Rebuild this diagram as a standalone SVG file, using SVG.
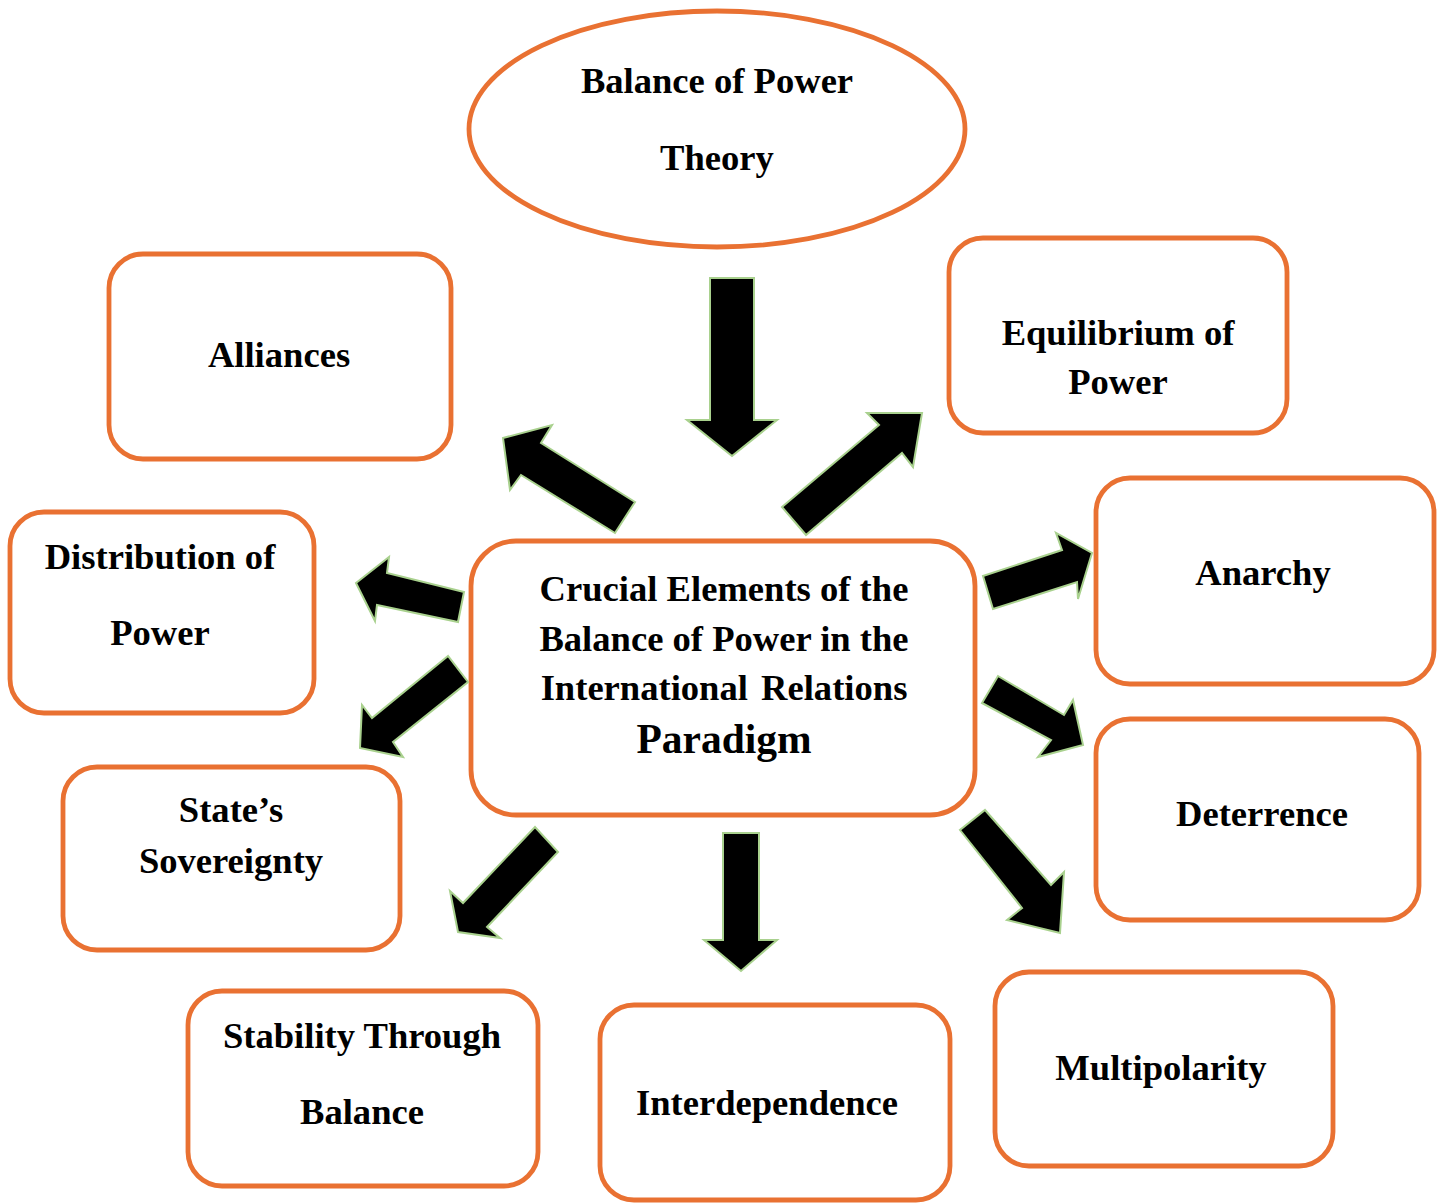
<svg xmlns="http://www.w3.org/2000/svg" width="1444" height="1203" viewBox="0 0 1444 1203">
  <style>
    .box { fill: #ffffff; stroke: #E97132; stroke-width: 4.8; }
    .arrow { fill: #000000; stroke: #A9D18E; stroke-width: 2; stroke-linejoin: miter; }
    .label { font-family: "Liberation Serif", "Times New Roman", serif; font-weight: bold; font-size: 36.6px; fill: #000000; text-anchor: middle; }
  </style>
  <rect x="0" y="0" width="1444" height="1203" fill="#ffffff"/>

  <!-- Top: theory ellipse -->
  <g id="node-theory">
    <ellipse class="box" cx="717" cy="129" rx="248" ry="118"/>
    <text class="label" x="717" y="93">Balance of Power</text>
    <text class="label" x="717" y="170">Theory</text>
  </g>

  <!-- Central concept -->
  <g id="node-central">
    <rect class="box" x="471" y="541" width="504" height="274" rx="45" ry="45"/>
    <text class="label" x="724" y="601">Crucial Elements of the</text>
    <text class="label" x="724" y="651">Balance of Power in the</text>
    <text class="label" x="724" y="700" word-spacing="4">International Relations</text>
    <text class="label" x="724" y="753" style="font-size:41.5px">Paradigm</text>
  </g>

  <!-- Surrounding elements -->
  <g id="node-alliances">
    <rect class="box" x="109" y="254" width="342" height="205" rx="34" ry="34"/>
    <text class="label" x="279" y="367">Alliances</text>
  </g>
  <g id="node-equilibrium">
    <rect class="box" x="949" y="238" width="338" height="195" rx="34" ry="34"/>
    <text class="label" x="1118" y="345">Equilibrium of</text>
    <text class="label" x="1118" y="394">Power</text>
  </g>
  <g id="node-distribution">
    <rect class="box" x="10" y="512" width="304" height="201" rx="34" ry="34"/>
    <text class="label" x="160" y="569">Distribution of</text>
    <text class="label" x="160" y="645">Power</text>
  </g>
  <g id="node-anarchy">
    <rect class="box" x="1096" y="478" width="338" height="206" rx="34" ry="34"/>
    <text class="label" x="1263" y="585">Anarchy</text>
  </g>
  <g id="node-deterrence">
    <rect class="box" x="1096" y="719" width="323" height="201" rx="34" ry="34"/>
    <text class="label" x="1262" y="826">Deterrence</text>
  </g>
  <g id="node-sovereignty">
    <rect class="box" x="63" y="767" width="337" height="183" rx="34" ry="34"/>
    <text class="label" x="231" y="822">State’s</text>
    <text class="label" x="231" y="873">Sovereignty</text>
  </g>
  <g id="node-stability">
    <rect class="box" x="188" y="991" width="350" height="195" rx="34" ry="34"/>
    <text class="label" x="362" y="1048">Stability Through</text>
    <text class="label" x="362" y="1124">Balance</text>
  </g>
  <g id="node-interdependence">
    <rect class="box" x="600" y="1005" width="350" height="195" rx="34" ry="34"/>
    <text class="label" x="767" y="1115">Interdependence</text>
  </g>
  <g id="node-multipolarity">
    <rect class="box" x="995" y="972" width="338" height="194" rx="34" ry="34"/>
    <text class="label" x="1161" y="1080">Multipolarity</text>
  </g>

  <!-- Block arrows -->
  <g id="connectors">
    <!-- theory to centre -->
    <polygon class="arrow" points="710,278 754,278 754,420 777,420 732,456 687,420 710,420"/>
    <!-- to equilibrium -->
    <polygon class="arrow" points="782,507 879,425 867,413 922,413 913,467 902,453 806,535"/>
    <!-- to alliances -->
    <polygon class="arrow" points="635,502 541,443 552,425 503,438 510,490 521,475 615,533"/>
    <!-- to distribution -->
    <polygon class="arrow" points="464,592 387,573 389,557 356,583 375,621 377,605 458,622"/>
    <!-- to sovereignty -->
    <polygon class="arrow" points="448,656 372,718 362,705 360,748 403,757 393,742 468,682"/>
    <!-- to anarchy -->
    <polygon class="arrow" points="983,576 1062,550 1056,533 1092,553 1078,599 1077,582 993,609"/>
    <!-- to deterrence -->
    <polygon class="arrow" points="998,676 1064,715 1073,700 1083,745 1038,757 1051,740 982,703"/>
    <!-- to multipolarity -->
    <polygon class="arrow" points="985,810 1051,885 1064,872 1060,933 1007,920 1022,908 960,830"/>
    <!-- to stability -->
    <polygon class="arrow" points="535,827 463,903 450,891 458,932 500,938 487,927 558,852"/>
    <!-- to interdependence -->
    <polygon class="arrow" points="723,833 759,833 759,940 777,940 741,971 704,940 723,940"/>
  </g>
</svg>
